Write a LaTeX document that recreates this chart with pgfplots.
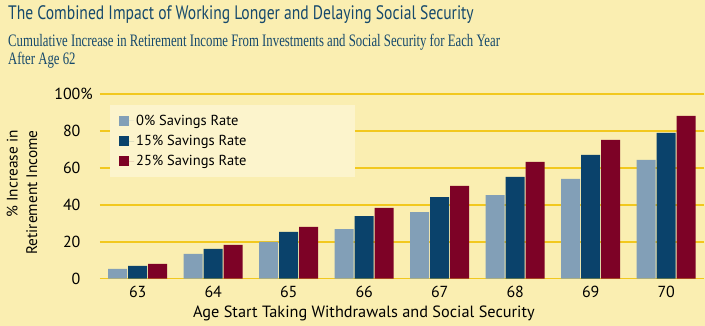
\documentclass[border=0pt]{standalone}
\usepackage{pgfplots}
\pgfplotsset{compat=1.18}
\usetikzlibrary{calc,backgrounds}
\usepackage{fontspec}
\setmainfont{PT Sans}
\newfontfamily\titlefont[FakeStretch=0.80]{PT Sans}
\newfontfamily\subfont[FakeStretch=0.73]{Liberation Serif}
\definecolor{bg}{HTML}{FAEEB1}
\definecolor{legbg}{HTML}{FCF4CC}
\definecolor{gridc}{HTML}{F2C81E}
\definecolor{cgray}{HTML}{829FB7}
\definecolor{cnavy}{HTML}{0A426B}
\definecolor{cred}{HTML}{7D0226}
\definecolor{titlec}{HTML}{16496C}
\begin{document}
\begin{tikzpicture}[x=1pt,y=1pt]
\begin{axis}[
  name=ax, scale only axis,
  width=604pt, height=184.7pt,
  xmin=62.5, xmax=70.5, ymin=0, ymax=100,
  ybar=1pt, bar width=19pt,
  axis line style={draw=none}, tick style={draw=none},
  ymajorgrids, grid style={gridc, line width=1.5pt},
  xtick={63,64,65,66,67,68,69,70},
  ytick={0,20,40,60,80,100},
  yticklabels={0,20,40,60,80,100\makebox[0pt][l]{\%}},
  /pgf/number format/assume math mode=true,
  ticklabel style={font=\fontsize{16}{18}\selectfont, text=black},
  yticklabel style={xshift=-16pt},
  xticklabel style={yshift=0pt},
  xlabel={Age Start Taking Withdrawals and Social Security},
  xlabel style={font=\fontsize{16.3}{18}\selectfont, at={(axis description cs:0.437,0)}, anchor=north, yshift=-24pt},
  ylabel={\% Increase in\\Retirement Income},
  ylabel style={font=\fontsize{15.3}{19.5}\selectfont, align=right, at={(axis description cs:-0.129,0.467)}, anchor=center},
  legend style={draw=none, fill=legbg, at={(axis description cs:0.0166,0.940)}, anchor=north west,
    font=\fontsize{14.5}{16}\selectfont, row sep=4.5pt, inner xsep=9pt, inner ysep=7.5pt,
    cells={anchor=west}},
  legend image code/.code={\fill[#1] (0pt,-5pt) rectangle (10pt,5pt); \path (0pt,0pt) -- (15pt,0pt);},
  clip=false,
]
\addplot[fill=cgray, draw=none] coordinates {(63,5.3) (64,13.4) (65,20.0) (66,26.9) (67,36.1) (68,45.3) (69,54.0) (70,64.3)};
\addplot[fill=cnavy, draw=none] coordinates {(63,6.9) (64,16.1) (65,25.3) (66,33.9) (67,44.2) (68,55.1) (69,67.0) (70,79.0)};
\addplot[fill=cred, draw=none] coordinates {(63,8.0) (64,18.3) (65,28.0) (66,38.3) (67,50.2) (68,63.2) (69,75.1) (70,88.1)};
\legend{\makebox[208pt][l]{0\% Savings Rate},\makebox[208pt][l]{15\% Savings Rate},\makebox[208pt][l]{25\% Savings Rate}}
\coordinate (O) at (rel axis cs:0,0);
\end{axis}
\begin{scope}[on background layer]
\fill[bg] ($(O)+(-100,-47.3)$) rectangle ++(705,326);
\end{scope}
\node[anchor=base west, text=titlec, font=\titlefont\fontsize{19.5}{24}\selectfont, inner sep=0] at ($(O)+(-92,258.7)$) {The Combined Impact of Working Longer and Delaying Social Security};
\node[anchor=base west, text=titlec, font=\subfont\fontsize{17.5}{20}\selectfont, inner sep=0] at ($(O)+(-92,232)$) {Cumulative Increase in Retirement Income From Investments and Social Security for Each Year};
\node[anchor=base west, text=titlec, font=\subfont\fontsize{17.5}{20}\selectfont, inner sep=0] at ($(O)+(-92,214)$) {After Age 62};
\pgfresetboundingbox
\useasboundingbox ($(O)+(-100,-47.3)$) rectangle ++(705,326);
\end{tikzpicture}
\end{document}
